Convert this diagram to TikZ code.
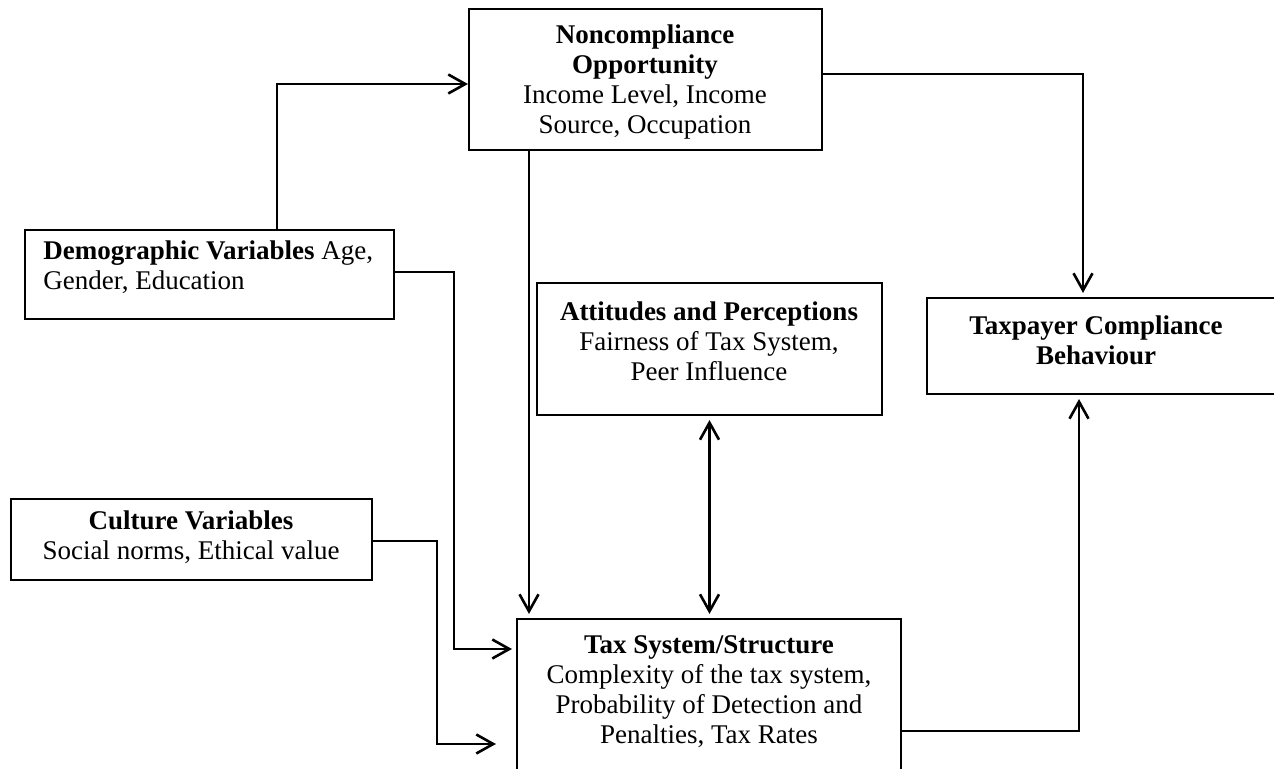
\documentclass[tikz,border=0pt]{standalone}
\usepackage{fontspec}
\setmainfont{Liberation Serif}
\usetikzlibrary{arrows.meta}

\begin{document}
\begin{tikzpicture}[x=0.5pt,y=-0.5pt,
  box/.style={draw, line width=1.05pt, inner sep=0pt},
  lbl/.style={inner sep=0pt, align=center, font=\fontsize{13.5}{15}\selectfont},
  link/.style={line width=1.3pt, -{Straight Barb[length=8.5pt,width=9.5pt,line width=1.3pt]}},
  both/.style={line width=1.3pt, {Straight Barb[length=8.5pt,width=9.5pt,line width=1.3pt]}-{Straight Barb[length=8.5pt,width=9.5pt,line width=1.3pt]}}
]
\useasboundingbox (0,0) rectangle (1274,769);

% boxes
\node[box, minimum width=176.5pt, minimum height=70.5pt] (nc)   at (645.5,79.5) {};
\node[box, minimum width=184.5pt, minimum height=44.5pt] (demo) at (209.5,274.5) {};
\node[box, minimum width=172.5pt, minimum height=66pt]   (att)  at (709.5,349) {};
\node[box, minimum width=176.5pt, minimum height=48pt]   (tp)   at (1103.5,346) {};
\node[box, minimum width=180.5pt, minimum height=40.5pt] (cult) at (191.5,539.5) {};
\node[box, minimum width=192pt,   minimum height=85.5pt] (tax)  at (709,704.5) {};

% box texts
\node[lbl] (ncT) at (645,82) {\textbf{Noncompliance}\\\textbf{Opportunity}\\Income Level, Income\\Source, Occupation};
\node[lbl, align=left, anchor=west] (demoT) at (43,267) {\textbf{Demographic Variables} Age,\\Gender, Education};
\node[lbl] (attT) at (709,341) {\textbf{Attitudes and Perceptions}\\Fairness of Tax System,\\Peer Influence};
\node[lbl] (tpT) at (1096,340) {\textbf{Taxpayer Compliance}\\\textbf{Behaviour}};
\node[lbl] (cultT) at (191,537) {\textbf{Culture Variables}\\Social norms, Ethical value};
\node[lbl] (taxT) at (709,692) {\textbf{Tax System/Structure}\\Complexity of the tax system,\\Probability of Detection and\\Penalties, Tax Rates};

% bend points of the connectors
\coordinate (j1) at (277,84);
\coordinate (j2) at (1083,74);
\coordinate (j3) at (529,0);
\coordinate (j5a) at (454,272);
\coordinate (j5b) at (454,649);
\coordinate (j6a) at (437,541);
\coordinate (j6b) at (437,744);
\coordinate (j7a) at (1079,731);

% connectors
\draw[link] (demo.north -| j1) -- (j1) -- (nc.west |- j1);
\draw[link, shorten >=2pt] (nc.east |- j2) -- (j2) -- (tp.north -| j2);
\draw[link, shorten >=2pt] (nc.south -| j3) -- (tax.north -| j3);
\draw[both, shorten >=2pt, shorten <=2pt] (att.south) -- (att.south |- tax.north);
\draw[link, shorten >=2pt] (demo.east |- j5a) -- (j5a) -- (j5b) -- (tax.west |- j5b);
\draw[link, shorten >=10pt] (cult.east |- j6a) -- (j6a) -- (j6b) -- (tax.west |- j6b);
\draw[link, shorten >=2pt] (tax.east |- j7a) -- (j7a) -- (tp.south -| j7a);
\end{tikzpicture}
\end{document}
